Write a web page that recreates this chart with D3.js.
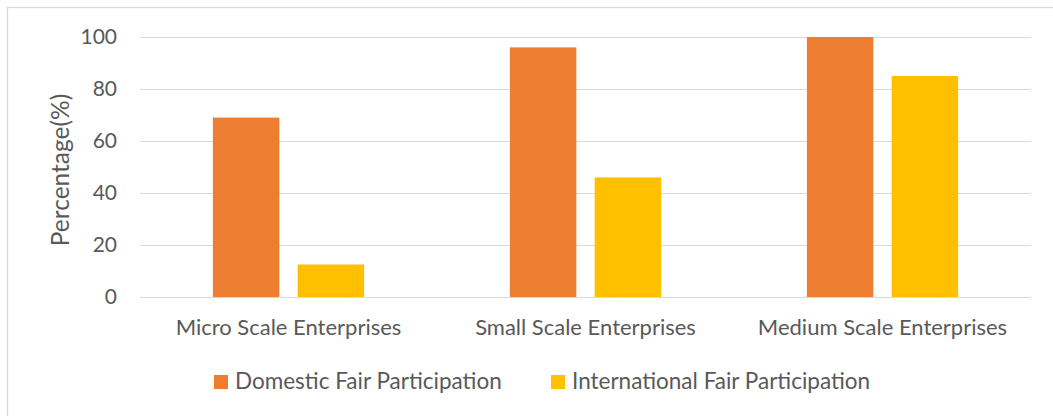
<!DOCTYPE html>
<html lang="en">
<head>
    <meta charset="UTF-8">
    <title>Fair Participation by Enterprise Scale</title>
    <script src="https://d3js.org/d3.v7.min.js"></script>
    <style>
        body { margin: 0; background: #fff; }
        text { font-family: Lato, "Open Sans", sans-serif; fill: #595959; }
        .grid line { stroke: #d9d9d9; stroke-width: 1.3; shape-rendering: crispEdges; }
        .grid path { display: none; }
    </style>
</head>
<body>
    <svg width="1053" height="416"></svg>

    <script>
        // Chart data
        const categories = ["Micro Scale Enterprises", "Small Scale Enterprises", "Medium Scale Enterprises"];
        const seriesNames = ["Domestic Fair Participation", "International Fair Participation"];
        const domestic = [69, 96, 100];
        const international = [12.5, 46, 85];
        const yTicks = [0, 20, 40, 60, 80, 100];
        const colors = ["#ED7D31", "#FFC000"];

        const seriesValues = [domestic, international];
        const data = categories.map((c, i) => ({
            category: c,
            values: seriesNames.map((s, j) => ({ series: s, value: seriesValues[j][i] }))
        }));

        const svg = d3.select("svg");

        // chart area border (only left and top fall inside the frame)
        svg.append("rect")
            .attr("x", 7.5).attr("y", 7.5)
            .attr("width", 1100).attr("height", 500)
            .attr("fill", "none")
            .attr("stroke", "#d9d9d9")
            .attr("stroke-width", 1.3);

        const plot = { left: 140, right: 1031, top: 37, bottom: 297 };

        const x0 = d3.scaleBand().domain(categories).range([plot.left, plot.right]).padding(0);
        const x1 = d3.scaleBand().domain(seriesNames).range([0, x0.bandwidth()])
            .paddingInner(0.216).paddingOuter(0.86);
        const y = d3.scaleLinear().domain([0, 100]).range([plot.bottom, plot.top]);
        const color = d3.scaleOrdinal().domain(seriesNames).range(colors);

        // gridlines
        svg.append("g")
            .attr("class", "grid")
            .attr("transform", `translate(${plot.left},0)`)
            .call(d3.axisLeft(y).tickValues(yTicks).tickSize(-(plot.right - plot.left)).tickFormat(""));

        // y tick labels
        const yAxis = svg.append("g")
            .attr("transform", `translate(${plot.left},0)`)
            .call(d3.axisLeft(y).tickValues(yTicks).tickSize(0).tickPadding(23));
        yAxis.select(".domain").remove();
        yAxis.selectAll("text")
            .style("font-family", "Lato, sans-serif")
            .style("font-size", "21px")
            .attr("fill", "#595959");

        // bars
        const groups = svg.selectAll(".cat")
            .data(data)
            .enter().append("g")
            .attr("class", "cat")
            .attr("transform", d => `translate(${x0(d.category)},0)`);

        groups.selectAll("rect")
            .data(d => d.values)
            .enter().append("rect")
            .attr("x", d => x1(d.series))
            .attr("width", x1.bandwidth())
            .attr("y", d => y(d.value))
            .attr("height", d => y(0) - y(d.value))
            .attr("fill", d => color(d.series));

        // x category labels
        const xAxis = svg.append("g")
            .attr("transform", `translate(0,${plot.bottom})`)
            .call(d3.axisBottom(x0).tickSize(0).tickPadding(22));
        xAxis.select(".domain").remove();
        xAxis.selectAll("text")
            .style("font-family", "Lato, sans-serif")
            .style("font-size", "22px")
            .attr("fill", "#595959");

        // y axis title
        svg.append("text")
            .attr("transform", `translate(69,${(plot.top + plot.bottom) / 2 + 3}) rotate(-90)`)
            .attr("text-anchor", "middle")
            .style("font-size", "24.5px")
            .text("Percentage(%)");

        // legend
        const legendX = [214, 551];
        const legend = svg.selectAll(".legend")
            .data(seriesNames)
            .enter().append("g")
            .attr("class", "legend")
            .attr("transform", (d, i) => `translate(${legendX[i]},375)`);
        legend.append("rect")
            .attr("width", 14).attr("height", 14)
            .attr("fill", d => color(d));
        legend.append("text")
            .attr("x", 21).attr("y", 14)
            .style("font-size", "22.5px")
            .text(d => d);
    </script>
</body>
</html>
